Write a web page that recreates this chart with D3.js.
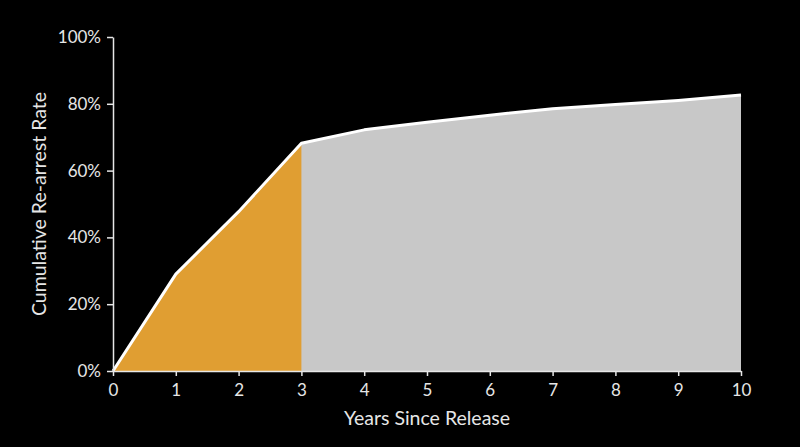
<!DOCTYPE html>
<html>
<head>
<meta charset="utf-8">
<script src="https://cdn.jsdelivr.net/npm/d3@7"></script>
<style>
  html, body { margin: 0; padding: 0; background: #000; }
  svg { display: block; font-family: Lato, "Open Sans", sans-serif; }
</style>
</head>
<body>
<div id="chart"></div>
<script>
// Cumulative re-arrest rate by years since release
const years = [0, 1, 2, 3, 4, 5, 6, 7, 8, 9, 10];
const rates = [0, 29.0, 47.7, 68.2, 72.2, 74.5, 76.6, 78.5, 79.8, 81.0, 82.6];
const yTicks = [0, 20, 40, 60, 80, 100];
const highlightEnd = 3; // years shaded in orange

const width = 800, height = 447;
const margin = { top: 37, right: 59, bottom: 76, left: 113 };

const data = years.map((y, i) => ({ year: y, rate: rates[i] }));

const svg = d3.select("#chart")
  .append("svg")
  .attr("width", width)
  .attr("height", height);

svg.append("rect")
  .attr("width", width)
  .attr("height", height)
  .attr("fill", "#000");

const x = d3.scaleLinear()
  .domain([0, 10])
  .range([margin.left, width - margin.right]);

const y = d3.scaleLinear()
  .domain([0, 100])
  .range([height - margin.bottom, margin.top]);

const area = d3.area()
  .x((d) => x(d.year))
  .y0(y(0))
  .y1((d) => y(d.rate));

// Grey area for the whole period, then orange for the first years
svg.append("path")
  .datum(data)
  .attr("d", area)
  .attr("fill", "#c8c8c8");

svg.append("path")
  .datum(data.filter((d) => d.year <= highlightEnd))
  .attr("d", area)
  .attr("fill", "#e09e32");

// Top outline
svg.append("path")
  .datum(data)
  .attr("d", d3.line().x((d) => x(d.year)).y((d) => y(d.rate)))
  .attr("fill", "none")
  .attr("stroke", "#fff")
  .attr("stroke-width", 3)
  .attr("stroke-linejoin", "round");

// Axes
const xAxis = svg.append("g")
  .attr("transform", `translate(0,${y(0)})`)
  .call(d3.axisBottom(x).tickValues(years).tickSize(5).tickSizeOuter(0).tickPadding(8));

const yAxis = svg.append("g")
  .attr("transform", `translate(${x(0)},0)`)
  .call(d3.axisLeft(y).tickValues(yTicks).tickSize(6).tickSizeOuter(0).tickPadding(6)
    .tickFormat((d) => d + "%"));

[xAxis, yAxis].forEach((g) => {
  g.select(".domain").attr("stroke", "#e6e6e6").attr("stroke-width", 1.5);
  g.selectAll(".tick line").attr("stroke", "#e6e6e6").attr("stroke-width", 1.5);
  g.selectAll(".tick text")
    .attr("fill", "#e6e6e6")
    .style("font-size", "17px")
    .style("font-family", "Lato, 'Open Sans', sans-serif");
});

// Axis titles
svg.append("text")
  .attr("x", x(5))
  .attr("y", 425)
  .attr("text-anchor", "middle")
  .attr("fill", "#e6e6e6")
  .style("font-size", "19.5px")
  .text("Years Since Release");

svg.append("text")
  .attr("transform", `translate(46,${y(50)}) rotate(-90)`)
  .attr("text-anchor", "middle")
  .attr("fill", "#e6e6e6")
  .style("font-size", "19.5px")
  .text("Cumulative Re-arrest Rate");
</script>
</body>
</html>
